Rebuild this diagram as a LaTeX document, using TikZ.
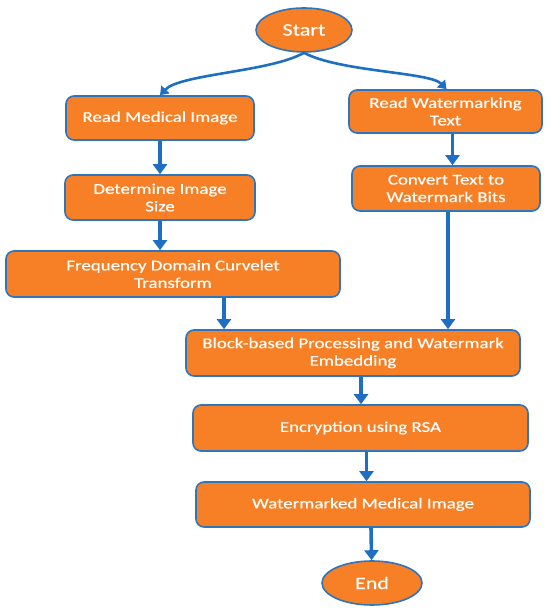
\documentclass[tikz,border=0pt]{standalone}
\usepackage{fontspec}
\setmainfont{Carlito}
\newfontfamily\boxfont{Carlito}[FakeStretch=1.26, FakeBold=0.4]
\usepackage{tikz}
\usetikzlibrary{arrows.meta,positioning,calc,shapes.geometric}
\definecolor{boxorange}{RGB}{247,127,38}
\definecolor{edgeblue}{RGB}{46,117,190}
\definecolor{arrblue}{RGB}{30,110,196}
\tikzset{
  procbox/.style={rectangle, rounded corners=8pt, draw=edgeblue, line width=1.6pt, fill=boxorange,
                  align=center, font=\boxfont\fontsize{15}{17.5}\selectfont, text=white, inner sep=2pt},
  termbox/.style={ellipse, draw=edgeblue, line width=1.6pt, fill=boxorange,
                  align=center, font=\boxfont\fontsize{17.5}{20}\selectfont, text=white, inner sep=0pt},
  arr/.style={-{Triangle[length=10pt,width=14pt]}, line width=3.6pt, draw=arrblue},
  carr/.style={-{Triangle[length=8pt,width=11pt]}, line width=2.6pt, draw=arrblue},
}

\begin{document}
\begin{tikzpicture}[x=1pt, y=1pt]
\useasboundingbox (0,0) rectangle (550,612);
\node[termbox, minimum width=96pt, minimum height=44pt] (s) at (304,582) {Start};
\node[procbox, minimum width=188pt, minimum height=44pt] (b1) at (160,494) {Read Medical Image};
\node[procbox, minimum width=193pt, minimum height=43pt] (b2) at (445.5,500.5) {Read Watermarking\\Text};
\node[procbox, minimum width=190pt, minimum height=45pt] (b3) at (160,414.5) {Determine Image\\Size};
\node[procbox, minimum width=188pt, minimum height=45pt] (b4) at (446,423.5) {Convert Text to\\Watermark Bits};
\node[procbox, minimum width=334pt, minimum height=46pt] (b5) at (173,338) {Frequency Domain Curvelet\\Transform};
\node[procbox, minimum width=334pt, minimum height=46pt] (b6) at (353,259) {Block-based Processing and Watermark\\Embedding};
\node[procbox, minimum width=335pt, minimum height=46pt] (b7) at (360.5,184) {Encryption using RSA};
\node[procbox, minimum width=334pt, minimum height=45pt] (b8) at (363,107.5) {Watermarked Medical Image};
\node[termbox, minimum width=100pt, minimum height=44pt] (e) at (372,29) {End};
% arrows
\draw[carr] (s.south) .. controls (270,540) and (180,538) .. (b1.north);
\draw[carr] (s.south) .. controls (340,540) and (430,540) .. ([xshift=1pt]b2.north);
\draw[arr] (b1) -- (b3);
\draw[arr] ([xshift=7pt]b2.south) -- ([xshift=7pt]b2.south |- b4.north);
\draw[arr] (b3) -- (b3 |- b5.north);
\draw[arr] ([xshift=51pt]b5.south) -- ([xshift=51pt]b5.south |- b6.north);
\draw[arr] ([xshift=2pt]b4.south) -- ([xshift=2pt]b4.south |- b6.north);
\draw[arr] ([xshift=8pt]b6.south) -- ([xshift=8pt]b6.south |- b7.north);
\draw[arr] ([xshift=6pt]b7.south) -- ([xshift=6pt]b7.south |- b8.north);
\draw[arr] ([xshift=8pt]b8.south) -- (e);
\end{tikzpicture}
\end{document}
